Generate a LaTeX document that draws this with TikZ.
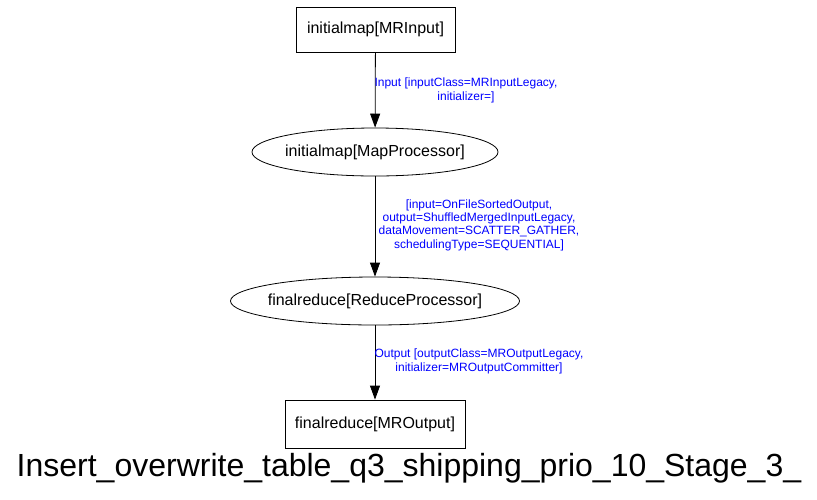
\documentclass[tikz,border=0pt]{standalone}
\usepackage{fontspec}
\setmainfont{Liberation Sans}
\usetikzlibrary{arrows.meta,shapes.geometric}
\begin{document}
\begin{tikzpicture}[x=1pt,y=-1pt,
  boxnode/.style={draw,line width=0.8pt,minimum height=45pt,inner sep=0pt,font=\fontsize{16}{18}\selectfont},
  ellnode/.style={draw,ellipse,line width=0.8pt,inner sep=0pt,font=\fontsize{16}{18}\selectfont},
  elabel/.style={text=blue,align=center,inner sep=0pt,font=\fontsize{12}{13.3}\selectfont},
  edge/.style={line width=0.8pt,-{Triangle[length=14pt,width=10pt]}}]
\useasboundingbox (0,0) rectangle (817,499);
\node[boxnode,minimum width=159pt] (mrin) at (375.5,29.5) {initialmap[MRInput]};
\node[ellnode,minimum width=246pt,minimum height=48pt] (mapp) at (375,152) {\makebox[0pt]{initialmap[MapProcessor]}};
\node[ellnode,minimum width=289pt,minimum height=48pt] (redp) at (375,301) {\makebox[0pt]{finalreduce[ReduceProcessor]}};
\node[boxnode,minimum width=180pt,minimum height=48pt] (mrout) at (375,424) {finalreduce[MROutput]};
\draw[edge] (mrin) -- (mapp);
\draw[edge] (mapp) -- (redp);
\draw[edge] (redp) -- (mrout);
\node[elabel] (l1) at (466,90.5) {Input [inputClass=MRInputLegacy,\\initializer=]};
\node[elabel] (l2) at (479,225) {[input=OnFileSortedOutput,\\output=ShuffledMergedInputLegacy,\\dataMovement=SCATTER\_GATHER,\\schedulingType=SEQUENTIAL]};
\node[elabel] (l3) at (479,361.5) {Output [outputClass=MROutputLegacy,\\initializer=MROutputCommitter]};
\node[inner sep=0pt,font=\fontsize{32}{36}\selectfont] (title) at (409,468) {Insert\_overwrite\_table\_q3\_shipping\_prio\_10\_Stage\_3\_};
\end{tikzpicture}
\end{document}
